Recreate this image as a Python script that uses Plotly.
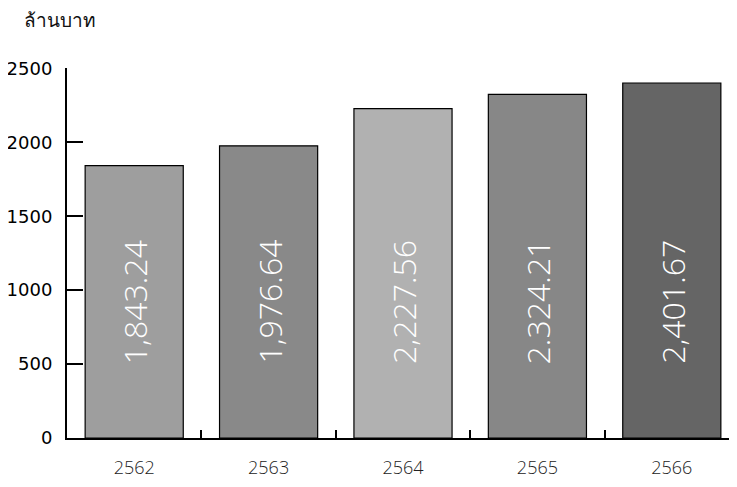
import plotly.graph_objects as go

years = ["2562", "2563", "2564", "2565", "2566"]
values = [1843.24, 1976.64, 2227.56, 2324.21, 2401.67]
labels = ["1,843.24", "1,976.64", "2,227.56", "2.324.21", "2,401.67"]
colors = ["#9E9E9E", "#898989", "#B1B1B1", "#878787", "#656565"]
label_y = 920
y_ticks = [0, 500, 1000, 1500, 2000, 2500]

fig = go.Figure()
fig.add_trace(go.Bar(
    x=years, y=values,
    marker=dict(color=colors, line=dict(color="black", width=1.2)),
    hoverinfo="skip",
))

for i, lab in enumerate(labels):
    fig.add_annotation(
        x=i, y=label_y, text=lab, textangle=-90, showarrow=False,
        font=dict(family="Open Sans", size=32, color="white", weight=300),
        xref="x", yref="y",
    )

PW = 672.0
PH = 370.0
fig.add_annotation(
    text="ล้านบาท", xref="paper", yref="paper",
    x=-45/PW, y=1 + 48/PH, xanchor="left", yanchor="middle",
    showarrow=False,
    font=dict(family="Noto Sans", size=19, color="#111"),
)

fig.update_layout(
    width=737, height=487,
    margin=dict(l=59, r=6, t=60, b=57),
    plot_bgcolor="white", paper_bgcolor="white",
    bargap=0.27,
    showlegend=False,
    xaxis=dict(
        type="category", tickson="boundaries", automargin=False,
        ticks="inside", ticklen=8, tickwidth=2, tickcolor="black",
        showline=True, linecolor="black", linewidth=2,
        showgrid=False,
        tickfont=dict(family="Open Sans", size=18, color="#222", weight=300),
        ticklabelstandoff=12,
        range=[-0.5, 4.5],
    ),
    yaxis=dict(
        range=[0, 2503], tickvals=y_ticks, automargin=False,
        ticks="inside", ticklen=16, tickwidth=2, tickcolor="black",
        showline=True, linecolor="black", linewidth=2,
        showgrid=False, zeroline=False,
        tickfont=dict(family="DejaVu Sans", size=18, color="black"),
        ticklabelstandoff=9,
    ),
)

fig.write_html("out.html")
